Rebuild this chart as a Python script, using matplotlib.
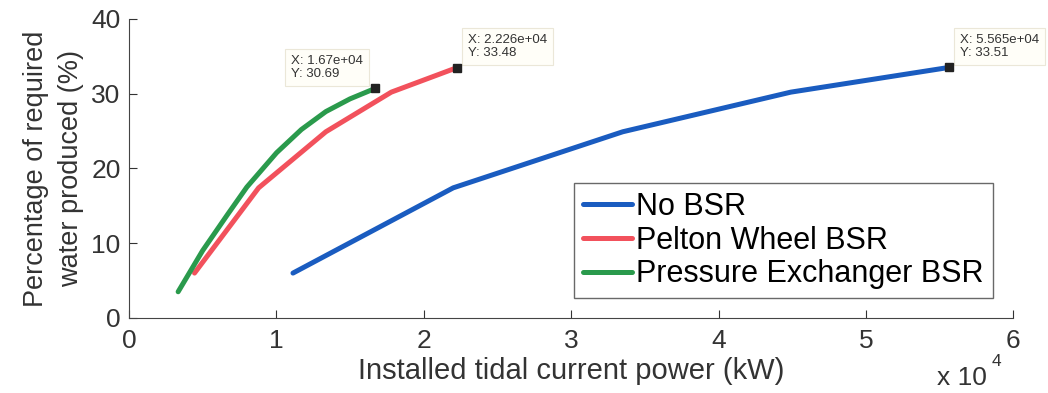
import matplotlib
matplotlib.use('Agg')
from matplotlib import pyplot as plt

# installed power (kW) and share of required water produced (%)
no_bsr_x = [11130, 22000, 33500, 44900, 55650]
no_bsr_y = [6.0, 17.4, 24.9, 30.2, 33.51]
pelton_x = [4450, 8800, 13360, 17800, 22260]
pelton_y = [6.0, 17.4, 24.9, 30.2, 33.48]
pressure_x = [3340, 5000, 6680, 8000, 10020, 11700, 13360, 15000, 16700]
pressure_y = [3.5, 9.0, 13.8, 17.5, 22.1, 25.2, 27.6, 29.3, 30.69]

labels = ['No BSR', 'Pelton Wheel BSR', 'Pressure Exchanger BSR']
colors = ['#1a5cc0', '#f2515c', '#2a9a4c']

# data tips shown in the figure (x, y, text, side)
tips = [(16700, 30.69, 'X: 1.67e+04\nY: 30.69', 'left'),
        (22260, 33.48, 'X: 2.226e+04\nY: 33.48', 'right'),
        (55650, 33.51, 'X: 5.565e+04\nY: 33.51', 'right')]

plt.rcParams['font.family'] = ['Liberation Sans', 'DejaVu Sans']
fig = plt.figure(figsize=(10.48, 3.93), dpi=100)
ax = fig.add_axes([0.123, 0.191, 0.844, 0.761])

ax.plot(no_bsr_x, no_bsr_y, color=colors[0], lw=3.6, label=labels[0], solid_capstyle='round')
ax.plot(pelton_x, pelton_y, color=colors[1], lw=3.6, label=labels[1], solid_capstyle='round')
ax.plot(pressure_x, pressure_y, color=colors[2], lw=3.6, label=labels[2], solid_capstyle='round')

for x, y, t, side in tips:
    ax.plot(x, y, marker='s', color='#222222', ms=6, zorder=5)
    if side == 'left':
        off, ha = (-9, 6), 'right'
    else:
        off, ha = (8, 6), 'left'
    ax.annotate(t, (x, y), xytext=off, textcoords='offset points',
                fontsize=9.5, color='#333333', va='bottom', ha=ha, multialignment='left',
                linespacing=1.1,
                bbox=dict(boxstyle='square,pad=0.45', fc='#fffef8', ec='#ebe7d8', lw=0.8),
                annotation_clip=False)

ax.set_xlim(0, 60000)
ax.set_ylim(0, 40)
ax.set_xticks([0, 10000, 20000, 30000, 40000, 50000, 60000])
ax.set_xticklabels(['0', '1', '2', '3', '4', '5', '6'])
ax.set_yticks([0, 10, 20, 30, 40])
ax.tick_params(direction='in', length=6, labelsize=19, colors='#333333', pad=6)
ax.tick_params(axis='x', pad=8)
for s in ['top', 'right']:
    ax.spines[s].set_visible(False)
for s in ['left', 'bottom']:
    ax.spines[s].set_color('#444444')

ax.set_xlabel('Installed tidal current power (kW)', fontsize=21, color='#333333', labelpad=3)
ax.set_ylabel('Percentage of required\nwater produced (%)', fontsize=19.5, color='#333333',
              labelpad=5, linespacing=1.45)
fig.text(0.894, 0.02, 'x 10', fontsize=19, color='#333333')
fig.text(0.946, 0.068, '4', fontsize=12.5, color='#333333')

leg = ax.legend(loc='lower right', bbox_to_anchor=(0.977, 0.065), fontsize=22,
                frameon=True, fancybox=False, handlelength=1.6, handletextpad=0.15,
                labelspacing=0.12, borderpad=0.3, borderaxespad=0)
leg.get_frame().set_edgecolor('#444444')
leg.get_frame().set_linewidth(1.0)

plt.savefig('out.png', dpi=100)
